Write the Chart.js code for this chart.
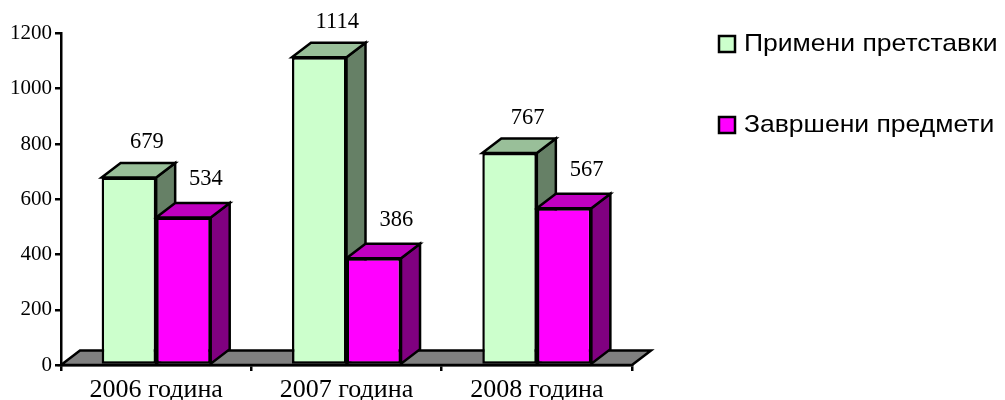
<!DOCTYPE html>
<html>
<head>
<meta charset="utf-8">
<script src="https://cdn.jsdelivr.net/npm/chart.js@4"></script>
<style>
  html, body { margin: 0; padding: 0; background: #fff; }
  canvas { display: block; }
</style>
</head>
<body>
<canvas id="chart" width="1005" height="400"></canvas>
<script>
const categories = ["2006 година", "2007 година", "2008 година"];
const received = [679, 1114, 767];
const finished = [534, 386, 567];
const seriesNames = ["Примени претставки", "Завршени предмети"];
const yTicks = [0, 200, 400, 600, 800, 1000, 1200];

/* depth of the fake 3D look, in px */
const DX = 19;
const DY = 14.5;
const LINE = 2.5;

function face(ctx, pts, fill) {
  ctx.beginPath();
  pts.forEach((p, i) => i ? ctx.lineTo(p[0], p[1]) : ctx.moveTo(p[0], p[1]));
  ctx.closePath();
  ctx.fillStyle = fill;
  ctx.fill();
  ctx.lineWidth = LINE;
  ctx.lineJoin = "miter";
  ctx.strokeStyle = "#000";
  ctx.stroke();
}

const depthPlugin = {
  id: "depth",
  // floor, then side and top of every bar, all under the front faces
  beforeDatasetsDraw(chart) {
    const { ctx, chartArea: a } = chart;
    face(ctx, [[a.left, a.bottom], [a.left + DX, a.bottom - DY], [a.right + DX, a.bottom - DY], [a.right, a.bottom]], "#808080");
    chart.data.datasets.forEach((ds, i) => {
      chart.getDatasetMeta(i).data.forEach(bar => {
        const l = bar.x - bar.width / 2;
        const r = bar.x + bar.width / 2;
        const t = bar.y;
        const b = bar.base;
        face(ctx, [[r, t], [r + DX, t - DY], [r + DX, b - DY], [r, b]], ds.sideColor);
        face(ctx, [[l, t], [l + DX, t - DY], [r + DX, t - DY], [r, t]], ds.topColor);
      });
    });
  },
  // value labels and legend
  afterDatasetsDraw(chart) {
    const { ctx } = chart;
    ctx.save();
    ctx.fillStyle = "#000";
    ctx.font = '22.5px "Liberation Serif"';
    ctx.textAlign = "center";
    ctx.textBaseline = "middle";
    chart.data.datasets.forEach((ds, i) => {
      chart.getDatasetMeta(i).data.forEach((bar, j) => {
        ctx.fillText(ds.data[j], bar.x + ds.labelShift, bar.y - ds.labelRise);
      });
    });
    const rows = [44, 125];
    ctx.textAlign = "left";
    ctx.font = '24px "Liberation Sans"';
    chart.data.datasets.forEach((ds, i) => {
      ctx.fillStyle = ds.backgroundColor;
      ctx.strokeStyle = "#000";
      ctx.lineWidth = LINE;
      ctx.fillRect(719, rows[i] - 8, 16, 16);
      ctx.strokeRect(719, rows[i] - 8, 16, 16);
      ctx.fillStyle = "#000";
      // reference legend text is wider than it is tall
      ctx.save();
      ctx.translate(744, rows[i]);
      ctx.scale(1.105, 1);
      ctx.fillText(ds.label, 0, 0);
      ctx.restore();
    });
    ctx.restore();
  }
};

new Chart(document.getElementById("chart"), {
  type: "bar",
  data: {
    labels: categories,
    datasets: [
      {
        label: seriesNames[0], data: received,
        backgroundColor: "#CCFFCC", sideColor: "#668066", topColor: "#99BF99", labelShift: 18, labelRise: 35,
        borderColor: "#000", borderWidth: LINE, borderSkipped: false, clip: false
      },
      {
        label: seriesNames[1], data: finished,
        backgroundColor: "#FF00FF", sideColor: "#800080", topColor: "#C000C0", labelShift: 22.5, labelRise: 38,
        borderColor: "#000", borderWidth: LINE, borderSkipped: false, clip: false
      }
    ]
  },
  options: {
    responsive: false,
    animation: false,
    layout: { padding: { left: 0, top: 33.5, right: 373, bottom: 0 } },
    categoryPercentage: 0.573,
    barPercentage: 1,
    plugins: { legend: { display: false }, tooltip: { enabled: false } },
    scales: {
      x: {
        afterFit(scale) { scale.height = 35; },
        border: { color: "#000", width: LINE },
        grid: { drawOnChartArea: false, drawTicks: true, tickLength: 6, color: "#000", lineWidth: LINE, offset: true },
        ticks: { color: "#000", font: { family: "Liberation Serif", size: 26 }, padding: 4, maxRotation: 0 }
      },
      y: {
        min: 0,
        max: 1200,
        afterFit(scale) { scale.width = 61; },
        afterBuildTicks(scale) { scale.ticks = yTicks.map(v => ({ value: v })); },
        border: { color: "#000", width: LINE },
        grid: { drawOnChartArea: false, drawTicks: true, tickLength: 6, color: "#000", lineWidth: LINE },
        ticks: { color: "#000", font: { family: "Liberation Serif", size: 21 }, padding: 3, callback: v => String(v) }
      }
    }
  },
  plugins: [depthPlugin]
});
</script>
</body>
</html>
